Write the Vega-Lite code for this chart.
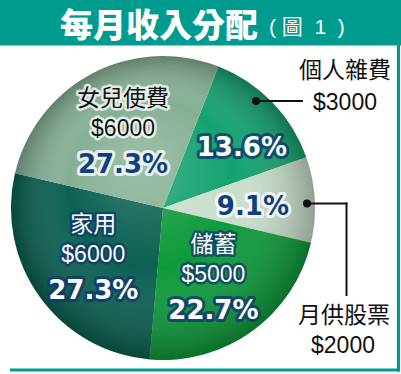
{
  "$schema": "https://vega.github.io/schema/vega-lite/v6.json",
  "width": 401,
  "height": 374,
  "padding": 0,
  "autosize": "none",
  "background": "white",
  "config": {"view": {"stroke": null}, "axis": {"disable": true}},
  "datasets": {
    "budget": [
      {"cat": "個人雜費", "amount": 3000, "pct": "13.6%"},
      {"cat": "月供股票", "amount": 2000, "pct": "9.1%"},
      {"cat": "儲蓄", "amount": 5000, "pct": "22.7%"},
      {"cat": "家用", "amount": 6000, "pct": "27.3%"},
      {"cat": "女兒使費", "amount": 6000, "pct": "27.3%"}
    ]
  },
  "layer": [
    {
      "data": {"values": [{}]},
      "mark": {"type": "rect", "fill": "#009B8F"},
      "encoding": {
        "x": {"datum": 0, "type": "quantitative", "scale": {"domain": [0, 401], "nice": false, "zero": false}},
        "x2": {"datum": 401},
        "y": {"datum": 0, "type": "quantitative", "scale": {"domain": [0, 374], "nice": false, "zero": false, "reverse": true}},
        "y2": {"datum": 45.5}
      }
    },
    {
      "data": {"values": [{}]},
      "mark": {"type": "text", "text": "每月收入分配", "align": "left", "baseline": "middle", "font": "Noto Sans CJK TC", "fontSize": 33, "fontWeight": 900, "fill": "#ffffff"},
      "encoding": {
        "x": {"datum": 60, "type": "quantitative", "scale": {"domain": [0, 401], "nice": false, "zero": false}},
        "y": {"datum": 26.5, "type": "quantitative", "scale": {"domain": [0, 374], "nice": false, "zero": false, "reverse": true}}
      }
    },
    {
      "data": {"values": [{}]},
      "mark": {"type": "text", "text": "(\u00a0圖\u00a0\u00a01\u00a0\u00a0)", "align": "left", "baseline": "middle", "font": "Liberation Sans, Noto Sans CJK TC", "fontSize": 21, "fontWeight": 400, "fill": "#ffffff"},
      "encoding": {
        "x": {"datum": 269, "type": "quantitative", "scale": {"domain": [0, 401], "nice": false, "zero": false}},
        "y": {"datum": 27.5, "type": "quantitative", "scale": {"domain": [0, 374], "nice": false, "zero": false, "reverse": true}}
      }
    },
    {
      "data": {"values": [{}]},
      "mark": {"type": "rule", "stroke": "#009B8F", "strokeWidth": 3},
      "encoding": {
        "x": {"datum": 398.5, "type": "quantitative", "scale": {"domain": [0, 401], "nice": false, "zero": false}},
        "y": {"datum": 45, "type": "quantitative", "scale": {"domain": [0, 374], "nice": false, "zero": false, "reverse": true}},
        "y2": {"datum": 371.5}
      }
    },
    {
      "data": {"values": [{}]},
      "mark": {"type": "rule", "stroke": "#009B8F", "strokeWidth": 3},
      "encoding": {
        "x": {"datum": 10, "type": "quantitative", "scale": {"domain": [0, 401], "nice": false, "zero": false}},
        "x2": {"datum": 400},
        "y": {"datum": 370, "type": "quantitative", "scale": {"domain": [0, 374], "nice": false, "zero": false, "reverse": true}}
      }
    },
    {
      "data": {"name": "budget"},
      "transform": [{"window": [{"op": "row_number", "as": "idx"}]}],
      "mark": {"type": "arc", "radius": 152},
      "encoding": {
        "theta": {"field": "amount", "type": "quantitative", "stack": true, "scale": {"range": [0.3735, 6.6567]}},
        "order": {"field": "idx", "type": "quantitative"},
        "color": {
          "field": "cat", "type": "nominal", "legend": null,
          "scale": {"domain": ["個人雜費", "月供股票", "儲蓄", "家用", "女兒使費"], "range": ["#14A26F", "#C8DECB", "#0E9A3A", "#0B6152", "#86B096"]}
        },
        "x": {"datum": 163, "type": "quantitative", "scale": {"domain": [0, 401], "nice": false, "zero": false}},
        "y": {"datum": 208, "type": "quantitative", "scale": {"domain": [0, 374], "nice": false, "zero": false, "reverse": true}}
      }
    },
    {
      "data": {"values": [{}]},
      "mark": {
        "type": "arc", "radius": 152, "theta": 0, "theta2": 6.2832,
        "fill": {"gradient": "radial", "x1": 0.42, "y1": 0.33, "r1": 0, "x2": 0.5, "y2": 0.5, "r2": 0.5,
          "stops": [
            {"offset": 0, "color": "rgba(255,255,255,0.2)"},
            {"offset": 0.55, "color": "rgba(255,255,255,0)"},
            {"offset": 1, "color": "rgba(0,0,0,0.28)"}
          ]}
      },
      "encoding": {
        "x": {"datum": 163, "type": "quantitative", "scale": {"domain": [0, 401], "nice": false, "zero": false}},
        "y": {"datum": 208, "type": "quantitative", "scale": {"domain": [0, 374], "nice": false, "zero": false, "reverse": true}}
      }
    },
    {
      "data": {"name": "budget"},
      "transform": [{"window": [{"op": "row_number", "as": "idx"}]}],
      "encoding": {
        "theta": {"field": "amount", "type": "quantitative", "stack": true, "scale": {"range": [0.3735, 6.6567]}},
        "order": {"field": "idx", "type": "quantitative"},
        "detail": {"field": "cat", "type": "nominal"},
        "x": {"datum": 163, "type": "quantitative", "scale": {"domain": [0, 401], "nice": false, "zero": false}},
        "y": {"datum": 208, "type": "quantitative", "scale": {"domain": [0, 374], "nice": false, "zero": false, "reverse": true}}
      },
      "layer": [
        {
          "mark": {"type": "text", "radius": 86, "dy": -33, "font": "Liberation Sans, Noto Sans CJK TC", "fontSize": 23, "strokeWidth": 5, "strokeJoin": "round", "strokeOpacity": 0.75},
          "encoding": {
            "text": {"field": "cat", "type": "nominal", "condition": {"test": "datum.cat == '個人雜費' || datum.cat == '月供股票'", "value": ""}},
            "fill": {"condition": {"test": "datum.cat == '女兒使費'", "value": "#ffffff"}, "value": "#0D3A6E"},
            "stroke": {"condition": {"test": "datum.cat == '女兒使費'", "value": "#ffffff"}, "value": "#0D3A6E"}
          }
        },
        {
          "mark": {"type": "text", "radius": 86, "dy": -33, "font": "Liberation Sans, Noto Sans CJK TC", "fontSize": 23},
          "encoding": {
            "text": {"field": "cat", "type": "nominal", "condition": {"test": "datum.cat == '個人雜費' || datum.cat == '月供股票'", "value": ""}},
            "fill": {"condition": {"test": "datum.cat == '女兒使費'", "value": "#111111"}, "value": "#ffffff"}
          }
        },
        {
          "mark": {"type": "text", "radius": 86, "dy": -3, "font": "Liberation Sans, Noto Sans CJK TC", "fontSize": 23, "strokeWidth": 5, "strokeJoin": "round", "strokeOpacity": 0.75},
          "encoding": {
            "text": {"field": "amount", "type": "quantitative", "format": "$d", "condition": {"test": "datum.cat == '個人雜費' || datum.cat == '月供股票'", "value": ""}},
            "fill": {"condition": {"test": "datum.cat == '女兒使費'", "value": "#ffffff"}, "value": "#0D3A6E"},
            "stroke": {"condition": {"test": "datum.cat == '女兒使費'", "value": "#ffffff"}, "value": "#0D3A6E"}
          }
        },
        {
          "mark": {"type": "text", "radius": 86, "dy": -3, "font": "Liberation Sans, Noto Sans CJK TC", "fontSize": 23},
          "encoding": {
            "text": {"field": "amount", "type": "quantitative", "format": "$d", "condition": {"test": "datum.cat == '個人雜費' || datum.cat == '月供股票'", "value": ""}},
            "fill": {"condition": {"test": "datum.cat == '女兒使費'", "value": "#111111"}, "value": "#ffffff"}
          }
        },
        {
          "mark": {"type": "text", "radius": 86, "dy": 33, "font": "DejaVu Sans", "fontWeight": "bold", "fontSize": 26, "strokeWidth": 6, "strokeJoin": "round", "strokeOpacity": 0.8},
          "encoding": {
            "text": {"field": "pct", "type": "nominal", "condition": {"test": "datum.cat == '個人雜費' || datum.cat == '月供股票'", "value": ""}},
            "fill": {"condition": {"test": "datum.cat == '女兒使費'", "value": "#ffffff"}, "value": "#0D3A6E"},
            "stroke": {"condition": {"test": "datum.cat == '女兒使費'", "value": "#ffffff"}, "value": "#0D3A6E"}
          }
        },
        {
          "mark": {"type": "text", "radius": 86, "dy": 33, "font": "DejaVu Sans", "fontWeight": "bold", "fontSize": 26},
          "encoding": {
            "text": {"field": "pct", "type": "nominal", "condition": {"test": "datum.cat == '個人雜費' || datum.cat == '月供股票'", "value": ""}},
            "fill": {"condition": {"test": "datum.cat == '女兒使費'", "value": "#0E3F7E"}, "value": "#ffffff"}
          }
        },
        {
          "mark": {"type": "text", "radius": 100, "dx": 7, "dy": 10, "font": "DejaVu Sans", "fontWeight": "bold", "fontSize": 26, "strokeWidth": 6, "strokeJoin": "round", "strokeOpacity": 0.8, "fill": "#0D3A6E", "stroke": "#0D3A6E"},
          "encoding": {
            "text": {"field": "pct", "type": "nominal", "condition": {"test": "datum.cat != '個人雜費'", "value": ""}}
          }
        },
        {
          "mark": {"type": "text", "radius": 100, "dx": 7, "dy": 10, "font": "DejaVu Sans", "fontWeight": "bold", "fontSize": 26, "fill": "#ffffff"},
          "encoding": {
            "text": {"field": "pct", "type": "nominal", "condition": {"test": "datum.cat != '個人雜費'", "value": ""}}
          }
        },
        {
          "mark": {"type": "text", "radius": 90, "dy": 4, "font": "DejaVu Sans", "fontWeight": "bold", "fontSize": 26, "strokeWidth": 6, "strokeJoin": "round", "strokeOpacity": 0.8, "fill": "#ffffff", "stroke": "#ffffff"},
          "encoding": {
            "text": {"field": "pct", "type": "nominal", "condition": {"test": "datum.cat != '月供股票'", "value": ""}}
          }
        },
        {
          "mark": {"type": "text", "radius": 90, "dy": 4, "font": "DejaVu Sans", "fontWeight": "bold", "fontSize": 26, "fill": "#0E3F7E"},
          "encoding": {
            "text": {"field": "pct", "type": "nominal", "condition": {"test": "datum.cat != '月供股票'", "value": ""}}
          }
        }
      ]
    },
    {
      "data": {"values": [{}]},
      "mark": {"type": "rule", "stroke": "#111111", "strokeWidth": 2},
      "encoding": {
        "x": {"datum": 256, "type": "quantitative", "scale": {"domain": [0, 401], "nice": false, "zero": false}},
        "x2": {"datum": 303},
        "y": {"datum": 101, "type": "quantitative", "scale": {"domain": [0, 374], "nice": false, "zero": false, "reverse": true}}
      }
    },
    {
      "data": {"values": [{}]},
      "mark": {"type": "rule", "stroke": "#111111", "strokeWidth": 2},
      "encoding": {
        "x": {"datum": 307, "type": "quantitative", "scale": {"domain": [0, 401], "nice": false, "zero": false}},
        "x2": {"datum": 347.5},
        "y": {"datum": 203.5, "type": "quantitative", "scale": {"domain": [0, 374], "nice": false, "zero": false, "reverse": true}}
      }
    },
    {
      "data": {"values": [{}]},
      "mark": {"type": "rule", "stroke": "#111111", "strokeWidth": 2},
      "encoding": {
        "x": {"datum": 346.5, "type": "quantitative", "scale": {"domain": [0, 401], "nice": false, "zero": false}},
        "y": {"datum": 202.5, "type": "quantitative", "scale": {"domain": [0, 374], "nice": false, "zero": false, "reverse": true}},
        "y2": {"datum": 296}
      }
    },
    {
      "data": {"values": [{}]},
      "mark": {"type": "point", "filled": true, "fill": "#111111", "size": 64, "opacity": 1},
      "encoding": {
        "x": {"datum": 256, "type": "quantitative", "scale": {"domain": [0, 401], "nice": false, "zero": false}},
        "y": {"datum": 101, "type": "quantitative", "scale": {"domain": [0, 374], "nice": false, "zero": false, "reverse": true}}
      }
    },
    {
      "data": {"values": [{}]},
      "mark": {"type": "point", "filled": true, "fill": "#111111", "size": 64, "opacity": 1},
      "encoding": {
        "x": {"datum": 307, "type": "quantitative", "scale": {"domain": [0, 401], "nice": false, "zero": false}},
        "y": {"datum": 203.5, "type": "quantitative", "scale": {"domain": [0, 374], "nice": false, "zero": false, "reverse": true}}
      }
    },
    {
      "data": {"name": "budget"},
      "transform": [{"filter": "datum.cat == '個人雜費'"}],
      "mark": {"type": "text", "font": "Liberation Sans, Noto Sans CJK TC", "fontSize": 23, "fill": "#111111"},
      "encoding": {
        "text": {"field": "cat", "type": "nominal"},
        "x": {"datum": 345, "type": "quantitative", "scale": {"domain": [0, 401], "nice": false, "zero": false}},
        "y": {"datum": 71, "type": "quantitative", "scale": {"domain": [0, 374], "nice": false, "zero": false, "reverse": true}}
      }
    },
    {
      "data": {"name": "budget"},
      "transform": [{"filter": "datum.cat == '個人雜費'"}],
      "mark": {"type": "text", "font": "Liberation Sans, Noto Sans CJK TC", "fontSize": 23, "fill": "#111111"},
      "encoding": {
        "text": {"field": "amount", "type": "quantitative", "format": "$d"},
        "x": {"datum": 345, "type": "quantitative", "scale": {"domain": [0, 401], "nice": false, "zero": false}},
        "y": {"datum": 103, "type": "quantitative", "scale": {"domain": [0, 374], "nice": false, "zero": false, "reverse": true}}
      }
    },
    {
      "data": {"name": "budget"},
      "transform": [{"filter": "datum.cat == '月供股票'"}],
      "mark": {"type": "text", "font": "Liberation Sans, Noto Sans CJK TC", "fontSize": 23, "fill": "#111111"},
      "encoding": {
        "text": {"field": "cat", "type": "nominal"},
        "x": {"datum": 344, "type": "quantitative", "scale": {"domain": [0, 401], "nice": false, "zero": false}},
        "y": {"datum": 316, "type": "quantitative", "scale": {"domain": [0, 374], "nice": false, "zero": false, "reverse": true}}
      }
    },
    {
      "data": {"name": "budget"},
      "transform": [{"filter": "datum.cat == '月供股票'"}],
      "mark": {"type": "text", "font": "Liberation Sans, Noto Sans CJK TC", "fontSize": 23, "fill": "#111111"},
      "encoding": {
        "text": {"field": "amount", "type": "quantitative", "format": "$d"},
        "x": {"datum": 343, "type": "quantitative", "scale": {"domain": [0, 401], "nice": false, "zero": false}},
        "y": {"datum": 346, "type": "quantitative", "scale": {"domain": [0, 374], "nice": false, "zero": false, "reverse": true}}
      }
    }
  ]
}
